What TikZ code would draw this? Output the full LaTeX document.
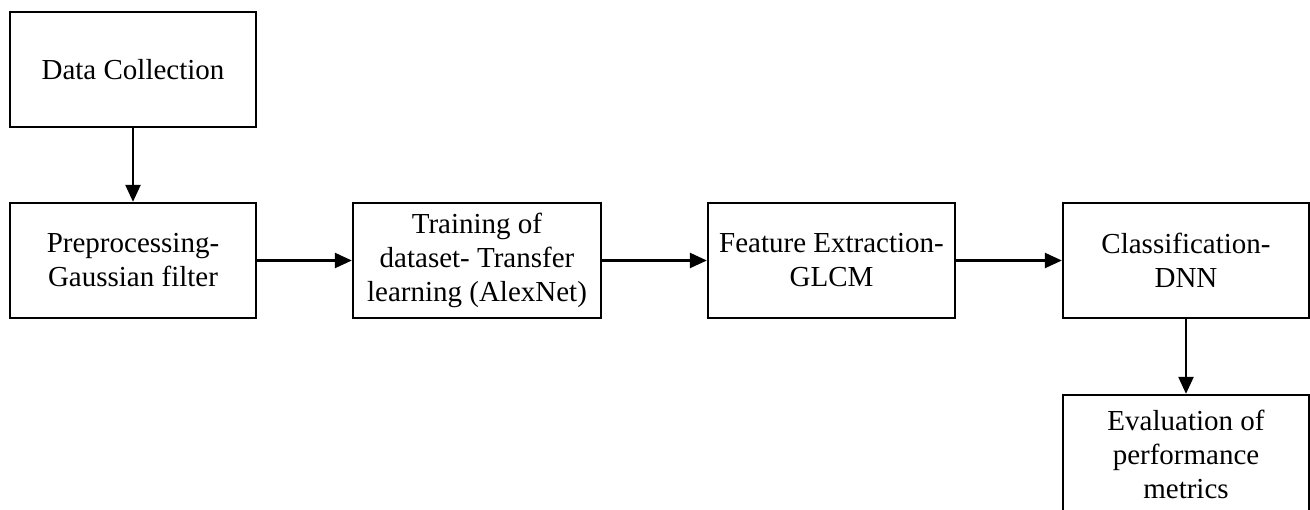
\documentclass[tikz,border=0pt]{standalone}
\usepackage{fontspec}
\setmainfont{Liberation Serif}
\usetikzlibrary{arrows.meta}
\begin{document}
\begin{tikzpicture}[x=1pt,y=-1pt,
  box/.style={draw=black, line width=2.3pt, fill=white, inner sep=0pt, align=center,
    minimum width=246pt, minimum height=115pt,
    font=\fontsize{29}{34}\selectfont},
  arr/.style={line width=2.3pt, -{Triangle[length=17pt,width=15pt]}}]
\useasboundingbox (0,0) rectangle (1310,510);
\node[box] (b1) at (133,69.5) {Data Collection};
\node[box] (b2) at (133,260.5) {Preprocessing-\\Gaussian filter};
\node[box, minimum width=248pt] (b3) at (477,260.5) {Training of\\dataset- Transfer\\learning (AlexNet)};
\node[box, minimum width=247pt] (b4) at (831.5,260.5) {Feature Extraction-\\GLCM};
\node[box] (b5) at (1186,260.5) {Classification-\\DNN};
\node[box, minimum height=118pt] (b6) at (1186,454) {Evaluation of\\performance\\metrics};
\draw[arr] (b1) -- (b2);
\draw[arr] (b2) -- (b3);
\draw[arr] (b3) -- (b4);
\draw[arr] (b4) -- (b5);
\draw[arr] (b5) -- (b6);
\end{tikzpicture}
\end{document}
